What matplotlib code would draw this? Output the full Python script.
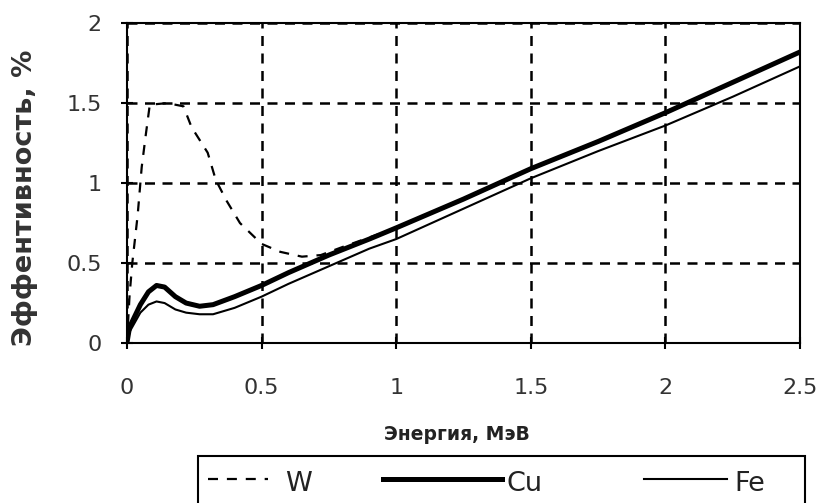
import numpy as np
import matplotlib
matplotlib.use("Agg")
import matplotlib.pyplot as plt
from matplotlib.lines import Line2D
from matplotlib.patches import Rectangle

# energy (MeV) and efficiency (%)
energy_w = [0, 0.01, 0.02, 0.04, 0.055, 0.07, 0.085, 0.15, 0.21, 0.24, 0.30, 0.33, 0.37,
            0.42, 0.50, 0.57, 0.65, 0.72, 0.80, 0.90, 1.0, 1.25, 1.5, 1.75, 2.0, 2.25, 2.5]
eff_w = [0, 0.30, 0.50, 0.80, 1.10, 1.30, 1.49, 1.50, 1.48, 1.35, 1.19, 1.02, 0.89,
         0.75, 0.62, 0.57, 0.54, 0.55, 0.60, 0.66, 0.72, 0.90, 1.09, 1.26, 1.44, 1.63, 1.82]

energy = [0, 0.01, 0.03, 0.05, 0.08, 0.11, 0.14, 0.18, 0.22, 0.27, 0.32, 0.40, 0.50,
          0.60, 0.75, 0.90, 1.0, 1.25, 1.5, 1.75, 2.0, 2.25, 2.5]
eff_cu = [0, 0.10, 0.17, 0.24, 0.32, 0.36, 0.35, 0.29, 0.25, 0.23, 0.24, 0.29, 0.36,
          0.44, 0.55, 0.65, 0.72, 0.90, 1.09, 1.26, 1.44, 1.63, 1.82]
eff_fe = [0, 0.07, 0.13, 0.19, 0.24, 0.26, 0.25, 0.21, 0.19, 0.18, 0.18, 0.22, 0.29,
          0.37, 0.48, 0.59, 0.65, 0.84, 1.03, 1.20, 1.36, 1.54, 1.73]

series_names = ["W", "Cu", "Fe"]
x_ticks = [0, 0.5, 1, 1.5, 2, 2.5]
x_ticklabels = ["0", "0.5", "1", "1.5", "2", "2.5"]
y_ticks = [0, 0.5, 1, 1.5, 2]
y_ticklabels = ["0", "0.5", "1", "1.5", "2"]

W_PX, H_PX = 824, 503
fig = plt.figure(figsize=(W_PX / 100, H_PX / 100), dpi=100)
ax = fig.add_axes([0.154, 0.318, 0.817, 0.636])

w_style = dict(color="black", lw=1.6, dashes=(4.5, 4))
cu_style = dict(color="black", lw=3.6)
fe_style = dict(color="black", lw=1.5)

ax.plot(energy_w, eff_w, zorder=3, **w_style)
ax.plot(energy, eff_cu, zorder=4, **cu_style)
ax.plot(energy, eff_fe, zorder=4, **fe_style)

ax.set_xlim(0, 2.5)
ax.set_ylim(0, 2)
ax.set_xticks(x_ticks)
ax.set_xticklabels(x_ticklabels)
ax.set_yticks(y_ticks)
ax.set_yticklabels(y_ticklabels)

ax.grid(True, color="black", lw=1.8, linestyle=(0, (4, 3)))
for s in ax.spines.values():
    s.set_linewidth(1.5)
ax.tick_params(direction="inout", length=8, width=1.5, labelsize=16,
               labelcolor="#333333")
ax.tick_params(axis="y", pad=14)
ax.tick_params(axis="x", pad=21)

ax.set_ylabel("Эффентивность, %", fontsize=19.5, fontweight="bold", color="#333333")
ax.yaxis.set_label_coords(-0.132, 0.455)
ax.set_xlabel("Энергия, МэВ", fontsize=13.5, fontweight="bold", color="#222222")
ax.xaxis.set_label_coords(0.49, -0.255)
ax.xaxis.label.set_va("top")


# legend drawn by hand: the handles in the reference have different lengths
def fx(px):
    return px / W_PX


def fy(py):
    return 1 - py / H_PX


fig.add_artist(Rectangle((fx(198), fy(512)), fx(805) - fx(198), fy(456) - fy(512),
                         transform=fig.transFigure, fill=False, lw=1.5,
                         edgecolor="black", clip_on=False))
leg_items = [(series_names[0], w_style, 208, 268, 285),
             (series_names[1], cu_style, 383, 502, 507),
             (series_names[2], fe_style, 644, 727, 734)]
for name, style, x0, x1, xt in leg_items:
    fig.add_artist(Line2D([fx(x0), fx(x1)], [fy(479), fy(479)],
                          transform=fig.transFigure, **style))
    fig.text(fx(xt), fy(491), name, fontsize=19.5, color="#222222",
             ha="left", va="baseline")

fig.savefig("out.png", dpi=100)
